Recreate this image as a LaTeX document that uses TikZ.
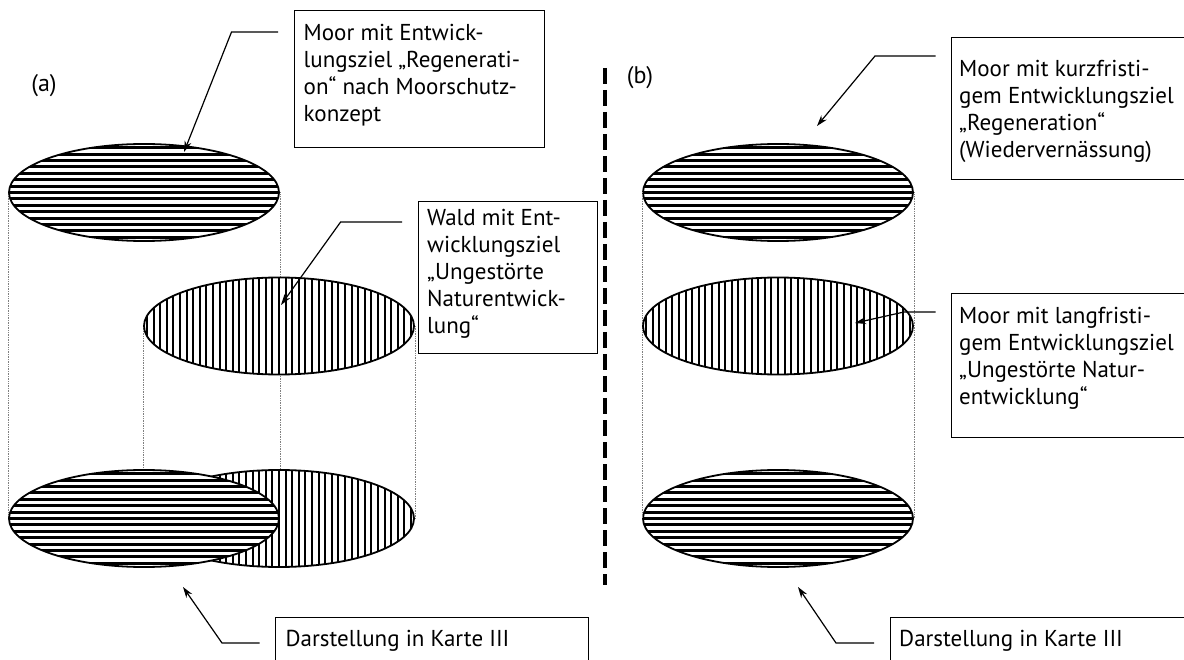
\documentclass[tikz,border=0pt]{standalone}
\usepackage{fontspec}
\setmainfont{PT Sans}
\usetikzlibrary{shapes.geometric}
\usetikzlibrary{arrows.meta}
\usetikzlibrary{positioning}
\usetikzlibrary{calc}
\tikzset{
	moor/.style = {
		ellipse,
		draw=black,
		line width=1.8,
		fill=white,
		inner sep=0pt,
		minimum width=270,
		minimum height=97,
		path picture={
			\foreach \k in {-8,...,8}
				\draw[line width=3] ([yshift=\k*6.4]path picture bounding box.west) -- ([yshift=\k*6.4]path picture bounding box.east);
		}
	},
	wald/.style = {
		moor,
		path picture={
			\foreach \k in {-21,...,21}
				\draw[line width=2] ([xshift=\k*6.6]path picture bounding box.north) -- ([xshift=\k*6.6]path picture bounding box.south);
		}
	},
	frame/.style = {
		rectangle,
		draw=black,
		line width=1.2,
		anchor=north west,
		inner sep=0pt
	},
	notetext/.style = {
		align=left,
		inner sep=0pt,
		anchor=north west,
		font=\fontsize{23}{27}\selectfont
	},
	panel/.style = {
		font=\fontsize{24}{27}\selectfont
	},
	guide/.style = {
		densely dotted,
		line width=0.7,
		gray
	},
	pointer/.style = {
		-{Stealth[length=11,width=7]},
		line width=1.2
	},
	divider/.style = {
		line width=4,
		dash pattern=on 16 off 6
	}
}
\begin{document}
\begin{tikzpicture}[x=1pt,y=1pt]
\useasboundingbox (0,0) rectangle (1184,-660);
\clip (0,0) rectangle (1184,-660);

% (a) ellipses
\coordinate (posA1) at (144,-192.5);
\coordinate (posA2) at (279,-326);
\coordinate (posA3) at (144,-518.5);
\coordinate (posA4) at (279,-518.5);
\node [moor, draw=none, fill=none, path picture={}] (moorA) at (posA1) {};
\node [moor, draw=none, fill=none, path picture={}] (waldA) at (posA2) {};
\node [moor, draw=none, fill=none, path picture={}] (moorAk) at (posA3) {};
\node [moor, draw=none, fill=none, path picture={}] (waldAk) at (posA4) {};
\draw [guide] (moorA.west) -- (moorA.west |- moorAk.west);
\draw [guide] (moorA.east) -- (moorA.east |- waldAk.north);
\draw [guide] (waldA.west) -- (waldA.west |- moorAk.north);
\draw [guide] (waldA.east) -- (waldA.east |- waldAk.east);
\node [moor] at (posA1) {};
\node [wald] at (posA2) {};
\node [wald] at (posA4) {};
\node [moor] at (posA3) {};

% (b) ellipses
\node [moor] (moorB) at (778,-192.5) {};
\node [wald, draw=none, fill=none, path picture={}] (waldB) at (778,-326) {};
\node [moor] (moorBk) at (778,-518.5) {};
\draw [guide] (moorB.west) -- (moorBk.west);
\draw [guide] (moorB.east) -- (moorBk.east);
\node [wald] at (waldB) {};

% divider and panel labels
\coordinate (divtop) at (605,-68);
\coordinate (divbottom) at (605,-585);
\draw [divider] (divtop) -- (divbottom);
\node [panel] (labA) at (44,-86) {(a)};
\node [panel] (labB) at (640,-78) {(b)};

% boxes
\node [frame, minimum width=250, minimum height=137] (boxA1) at (294,-10) {};
\node [notetext, below right=14 and 9.5 of boxA1.north west] (txtA1) {Moor mit Entwick-\\lungsziel „Regenerati-\\on“ nach Moorschutz-\\konzept};
\node [frame, minimum width=179, minimum height=152] (boxA2) at (418,-201) {};
\node [notetext, below right=8 and 9 of boxA2.north west] (txtA2) {Wald mit Ent-\\wicklungsziel\\„Ungestörte\\Naturentwick-\\lung“};
\node [frame, minimum width=300, minimum height=142] (boxB1) at (951,-37) {};
\node [notetext, below right=23 and 8 of boxB1.north west] (txtB1) {Moor mit kurzfristi-\\gem Entwicklungsziel\\„Regeneration“\\(Wiedervernässung)};
\node [frame, minimum width=300, minimum height=144] (boxB2) at (951,-293) {};
\node [notetext, below right=14 and 8 of boxB2.north west] (txtB2) {Moor mit langfristi-\\gem Entwicklungsziel\\„Ungestörte Natur-\\entwicklung“};
\node [frame, minimum width=312.5, minimum height=80] (boxA3) at (275,-617) {};
\node [notetext, below right=13.5 and 10.5 of boxA3.north west] (txtA3) {Darstellung in Karte III};
\node [frame, minimum width=350, minimum height=80] (boxB3) at (890,-617) {};
\node [notetext, below right=13.5 and 9 of boxB3.north west] (txtB3) {Darstellung in Karte III};

% leaders
\coordinate (fromA1) at ($(boxA1.north west)+(-16,-22)$);
\coordinate (toA1) at (184,-152);
\draw [pointer] (fromA1) -- ++(-46.5,0) -- (toA1);
\coordinate (fromA2) at ($(boxA2.north west)+(-16,-21)$);
\coordinate (toA2) at (281,-305);
\draw [pointer] (fromA2) -- ++(-61.4,0) -- (toA2);
\coordinate (fromB1) at ($(boxB1.north west)+(-15.5,-19)$);
\coordinate (toB1) at (817,-126);
\draw [pointer] (fromB1) -- ++(-60.5,0) -- (toB1);
\coordinate (fromB2) at ($(boxB2.north west)+(-15.5,-19)$);
\coordinate (toB2) at (855,-323);
\draw [pointer] (fromB2) -- ++(-31.5,0) -- (toB2);
\coordinate (fromA3) at ($(boxA3.north west)+(-15.5,-26)$);
\coordinate (toA3) at (183,-587);
\draw [pointer] (fromA3) -- ++(-37.5,0) -- (toA3);
\coordinate (fromB3) at ($(boxB3.north west)+(-16,-26)$);
\coordinate (toB3) at (798,-587);
\draw [pointer] (fromB3) -- ++(-38,0) -- (toB3);
\end{tikzpicture}
\end{document}
